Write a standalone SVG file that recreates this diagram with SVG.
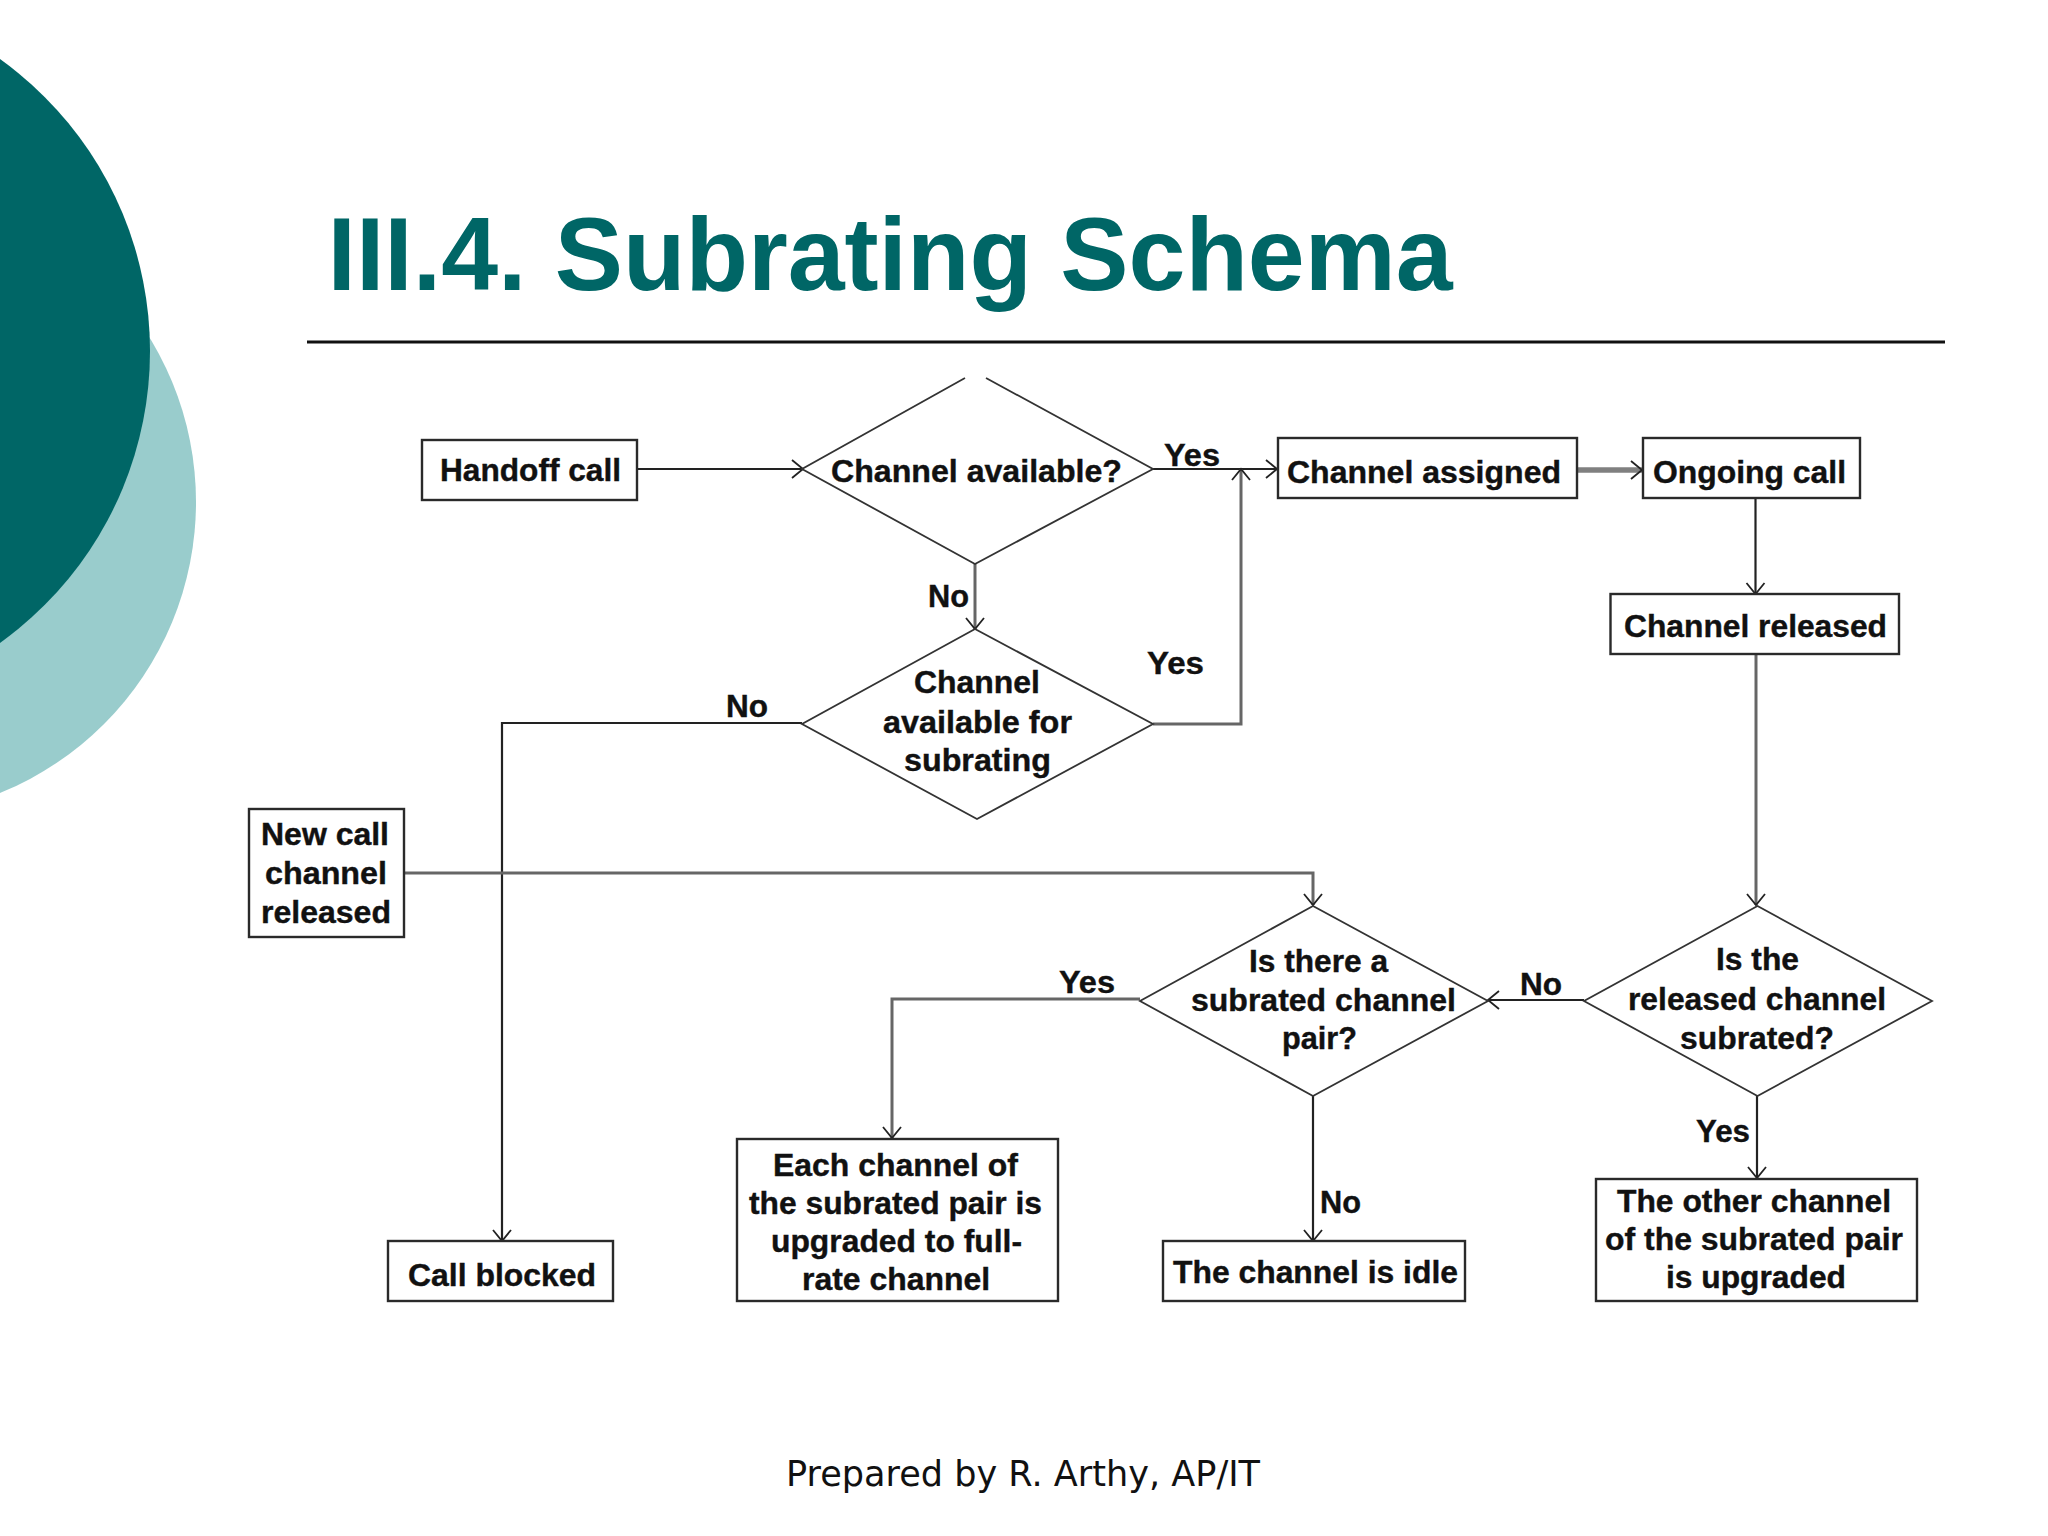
<svg xmlns="http://www.w3.org/2000/svg" width="2048" height="1536" viewBox="0 0 2048 1536">
<style>
.s{fill:#fff;stroke:#2a2a2a;stroke-width:2.4}
.d{fill:#fff;stroke:#333;stroke-width:1.8}
.t{font-family:"Liberation Sans",Arial,sans-serif;font-weight:bold;font-size:31px;fill:#111;stroke:#111;stroke-width:.4}
.c{fill:none;stroke:#222;stroke-width:2.2}
.g{fill:none;stroke:#666;stroke-width:3}
.h{fill:none;stroke:#808080;stroke-width:5.500}
</style>
<defs>
<marker id="a" markerUnits="userSpaceOnUse" markerWidth="26" markerHeight="26" refX="20" refY="13" orient="auto"><path d="M9,4 L20,13 L9,22" fill="none" stroke="#222" stroke-width="1.800"/></marker>
</defs>
<rect width="2048" height="1536" fill="#fff"/>
<circle cx="-118" cy="502" r="314" fill="#99cccc"/>
<circle cx="-209" cy="351" r="359" fill="#006666"/>
<text id="title" x="327.500" y="290" font-family="'Liberation Sans',Arial,sans-serif" font-weight="bold" font-size="104px" fill="#006666" textLength="1125" lengthAdjust="spacingAndGlyphs">III.4. Subrating Schema</text>
<rect x="307" y="340.500" width="1638" height="3" fill="#111"/>
<g id="connectors">
<path class="c" d="M637,469 H803" marker-end="url(#a)"/>
<path class="g" d="M975,564 V629" marker-end="url(#a)"/>
<path class="c" d="M1153,469 H1277" marker-end="url(#a)"/>
<path class="g" d="M1153,724 H1241 V469" marker-end="url(#a)"/>
<path class="h" d="M1577,470 H1642" marker-end="url(#a)"/>
<path class="c" d="M1755.500,498 V594" marker-end="url(#a)"/>
<path class="g" d="M1756,654 V905" marker-end="url(#a)"/>
<path class="c" d="M802,723 H502 V1241" marker-end="url(#a)"/>
<path class="g" d="M404,873 H1313 V905" marker-end="url(#a)"/>
<path class="c" d="M1584,1000 H1488" marker-end="url(#a)"/>
<path class="g" d="M1140,999 H892 V1138" marker-end="url(#a)"/>
<path class="c" d="M1313,1095 V1241" marker-end="url(#a)"/>
<path class="c" d="M1757,1095 V1178" marker-end="url(#a)"/>
</g>
<g id="handoff"><rect class="s" x="422" y="440" width="215" height="60"/><text class="t" x="440" y="481" textLength="181" lengthAdjust="spacingAndGlyphs">Handoff call</text></g>
<g id="channel-available"><path class="d" d="M965,378 L802,469 L975,564 L1153,469 L986,378"/><text class="t" x="831" y="482" textLength="291" lengthAdjust="spacingAndGlyphs">Channel available?</text></g>
<g id="channel-assigned"><rect class="s" x="1278" y="438" width="299" height="60"/><text class="t" x="1287" y="483" textLength="274" lengthAdjust="spacingAndGlyphs">Channel assigned</text></g>
<g id="ongoing"><rect class="s" x="1643" y="438" width="217" height="60"/><text class="t" x="1653" y="483" textLength="193" lengthAdjust="spacingAndGlyphs">Ongoing call</text></g>
<g id="channel-released"><rect class="s" x="1610.500" y="594" width="288.500" height="60"/><text class="t" x="1624" y="637" textLength="263" lengthAdjust="spacingAndGlyphs">Channel released</text></g>
<g id="subrating"><path class="d" d="M975,629 L802,724 L977,819 L1153,724 Z"/><text class="t" x="914" y="693" textLength="126" lengthAdjust="spacingAndGlyphs">Channel</text><text class="t" x="883" y="733" textLength="189" lengthAdjust="spacingAndGlyphs">available for</text><text class="t" x="904" y="771" textLength="147" lengthAdjust="spacingAndGlyphs">subrating</text></g>
<g id="new-call"><rect class="s" x="249" y="809" width="155" height="128"/><text class="t" x="261" y="845" textLength="128" lengthAdjust="spacingAndGlyphs">New call</text><text class="t" x="265" y="884" textLength="122" lengthAdjust="spacingAndGlyphs">channel</text><text class="t" x="261" y="923" textLength="130" lengthAdjust="spacingAndGlyphs">released</text></g>
<g id="is-there"><path class="d" d="M1313,906 L1140,1001 L1313,1096 L1488,1001 Z"/><text class="t" x="1249" y="972" textLength="139" lengthAdjust="spacingAndGlyphs">Is there a</text><text class="t" x="1191" y="1011" textLength="265" lengthAdjust="spacingAndGlyphs">subrated channel</text><text class="t" x="1282" y="1049" textLength="75" lengthAdjust="spacingAndGlyphs">pair?</text></g>
<g id="is-released"><path class="d" d="M1757.500,906 L1584,1001 L1757.500,1096 L1932,1001 Z"/><text class="t" x="1716" y="970" textLength="83" lengthAdjust="spacingAndGlyphs">Is the</text><text class="t" x="1628" y="1010" textLength="258" lengthAdjust="spacingAndGlyphs">released channel</text><text class="t" x="1680" y="1049" textLength="154" lengthAdjust="spacingAndGlyphs">subrated?</text></g>
<g id="call-blocked"><rect class="s" x="388" y="1241" width="225" height="60"/><text class="t" x="408" y="1286" textLength="188" lengthAdjust="spacingAndGlyphs">Call blocked</text></g>
<g id="each-channel"><rect class="s" x="737" y="1139" width="321" height="162"/><text class="t" x="773" y="1176" textLength="245" lengthAdjust="spacingAndGlyphs">Each channel of</text><text class="t" x="749" y="1214" textLength="293" lengthAdjust="spacingAndGlyphs">the subrated pair is</text><text class="t" x="771" y="1252" textLength="251" lengthAdjust="spacingAndGlyphs">upgraded to full-</text><text class="t" x="802" y="1290" textLength="188" lengthAdjust="spacingAndGlyphs">rate channel</text></g>
<g id="idle"><rect class="s" x="1163" y="1241" width="302" height="60"/><text class="t" x="1173" y="1283" textLength="285" lengthAdjust="spacingAndGlyphs">The channel is idle</text></g>
<g id="other-channel"><rect class="s" x="1596" y="1179" width="321" height="122"/><text class="t" x="1617" y="1212" textLength="274" lengthAdjust="spacingAndGlyphs">The other channel</text><text class="t" x="1605" y="1250" textLength="298" lengthAdjust="spacingAndGlyphs">of the subrated pair</text><text class="t" x="1666" y="1288" textLength="180" lengthAdjust="spacingAndGlyphs">is upgraded</text></g>
<g id="labels">
<text class="t" x="928" y="607" textLength="41" lengthAdjust="spacingAndGlyphs">No</text>
<text class="t" x="1164" y="466" textLength="56" lengthAdjust="spacingAndGlyphs">Yes</text>
<text class="t" x="1147" y="674" textLength="57" lengthAdjust="spacingAndGlyphs">Yes</text>
<text class="t" x="726" y="717" textLength="42" lengthAdjust="spacingAndGlyphs">No</text>
<text class="t" x="1059" y="993" textLength="56" lengthAdjust="spacingAndGlyphs">Yes</text>
<text class="t" x="1520" y="995" textLength="42" lengthAdjust="spacingAndGlyphs">No</text>
<text class="t" x="1696" y="1142" textLength="54" lengthAdjust="spacingAndGlyphs">Yes</text>
<text class="t" x="1320" y="1213" textLength="41" lengthAdjust="spacingAndGlyphs">No</text>
</g>
<text id="footer" x="786" y="1486" font-family="'DejaVu Sans',Verdana,sans-serif" font-size="35px" fill="#111" textLength="474" lengthAdjust="spacingAndGlyphs">Prepared by R. Arthy, AP/IT</text>
</svg>
